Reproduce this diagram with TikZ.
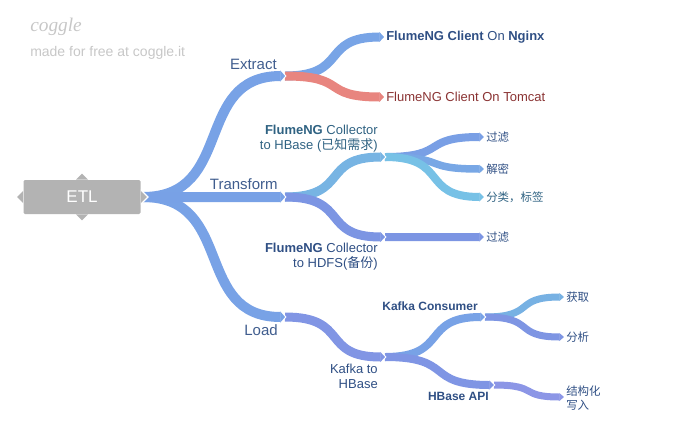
\documentclass[tikz,border=0pt]{standalone}
\usepackage{fontspec}
\setmainfont{Liberation Sans}
\newfontfamily\cjk{Noto Sans CJK SC}
\newfontfamily\logofont{Liberation Serif}
\usetikzlibrary{arrows.meta,calc,positioning}
\definecolor{etlgrey}{HTML}{B3B3B3}
\definecolor{rootblue}{HTML}{78A2E6}
\definecolor{skyblue}{HTML}{77B4E3}
\definecolor{cyanblue}{HTML}{77C1E6}
\definecolor{coralred}{HTML}{E8857F}
\definecolor{periblue}{HTML}{7C95E3}
\definecolor{violetblue}{HTML}{8C96E6}
\definecolor{inkblue}{HTML}{2F4F84}
\definecolor{tealink}{HTML}{2F6282}
\definecolor{redink}{HTML}{8A3333}
\tikzset{
  toplabel/.style={inner sep=0pt,text=inkblue!92!white,font=\fontsize{11.25}{13}\selectfont},
  midlabel/.style={inner sep=0pt,text=inkblue,align=right,font=\fontsize{9.75}{11.25}\selectfont},
  leaflabel/.style={inner sep=0pt,text=inkblue,align=left,font=\cjk\fontsize{8.6}{10.5}\selectfont},
  logolabel/.style={inner sep=0pt,text=black!22},
}
% one ribbon of the map, with a pale notch at its end
\newcommand{\branch}[4]{%
  \draw[white,line width=#4*0.75pt,-{Triangle[length=3.5pt,width=#4*0.75pt+0.6pt]}] ($(#2)+(-6,0)$) -- ($(#2)+(1.5,0)$);
  \draw[#3,line width=#4*0.75pt,-{Triangle[length=3.5pt,width=#4*0.75pt+0.6pt]}] (#1) .. controls ($(#1)!0.65!(#1-|#2)$) and ($(#2)!0.65!(#2-|#1)$) .. (#2);
}
\begin{document}
\begin{tikzpicture}[x=0.75pt,y=-0.75pt]
\useasboundingbox (0,0) rectangle (700,444);
\node[logolabel,anchor=west,font=\logofont\itshape\fontsize{14.5}{20}\selectfont] (logo) at (30,27) {coggle};
\node[logolabel,anchor=west,font=\fontsize{10.5}{12}\selectfont] (madefor) at (30,53) {made for free at coggle.it};
% junctions
\coordinate (root) at (143,197);
\coordinate (extract) at (285,76);
\coordinate (transform) at (285,197);
\coordinate (load) at (285,317);
\coordinate (nginx) at (384,37);
\coordinate (tomcat) at (384,97);
\coordinate (hbasein) at (385,157);
\coordinate (hdfsin) at (385,237);
\coordinate (filtera) at (484,137);
\coordinate (decrypt) at (484,169);
\coordinate (classify) at (484,197);
\coordinate (filterb) at (484,237);
\coordinate (kafka) at (385,357);
\coordinate (consumer) at (485,317);
\coordinate (hbaseapi) at (494,385);
\coordinate (fetch) at (564,297);
\coordinate (analyse) at (564,337);
\coordinate (write) at (564,397);
% ribbons
\branch{consumer}{fetch}{skyblue!85!rootblue}{7}
\branch{consumer}{analyse}{periblue!85!violetblue}{7}
\branch{hbaseapi}{write}{violetblue}{7}
\branch{kafka}{consumer}{rootblue}{8}
\branch{kafka}{hbaseapi}{periblue!80!violetblue}{8}
\branch{load}{kafka}{periblue!70!violetblue}{9}
\branch{hbasein}{filtera}{rootblue!80!periblue}{8}
\branch{hbasein}{decrypt}{rootblue!70!skyblue}{7.5}
\branch{hbasein}{classify}{cyanblue}{8}
\branch{hdfsin}{filterb}{periblue}{8}
\branch{transform}{hbasein}{skyblue}{9}
\branch{transform}{hdfsin}{periblue}{9}
\branch{extract}{nginx}{rootblue!90!skyblue}{9}
\branch{extract}{tomcat}{coralred}{9}
\branch{root}{extract}{rootblue}{10}
\branch{root}{load}{rootblue}{10}
\branch{root}{transform}{rootblue!90!periblue}{10}
% root node
\node[fill=etlgrey,rounded corners=1pt,text=white,minimum width=87.75pt,minimum height=25.5pt,inner sep=0pt,font=\fontsize{12.75}{15}\selectfont] (etl) at (82,197) {ETL};
\fill[etlgrey] ($(etl.north)+(-6,0)$) -- ($(etl.north)+(0,-6)$) -- ($(etl.north)+(6,0)$) -- cycle;
\fill[etlgrey] ($(etl.south)+(-6,0)$) -- ($(etl.south)+(0,6)$) -- ($(etl.south)+(6,0)$) -- cycle;
\fill[etlgrey] ($(etl.west)+(0,-6)$) -- ($(etl.west)+(-6,0)$) -- ($(etl.west)+(0,6)$) -- cycle;
\fill[white] ($(etl.east)+(0,-8)$) -- ($(etl.east)+(8,0)$) -- ($(etl.east)+(0,8)$) -- cycle;
\fill[etlgrey] ($(etl.east)+(0,-6)$) -- ($(etl.east)+(6,0)$) -- ($(etl.east)+(0,6)$) -- cycle;
% labels
\node[toplabel,anchor=base east] (extractlabel) at (277,69) {Extract};
\node[toplabel,anchor=base east] (transformlabel) at (278,189) {Transform};
\node[toplabel,anchor=base east] (loadlabel) at (278,335) {Load};
\node[midlabel,right=1.5pt of nginx,anchor=west] (nginxlabel) {\textbf{FlumeNG Client} On \textbf{Nginx}};
\node[midlabel,right=1.5pt of tomcat,anchor=west,text=redink] (tomcatlabel) {FlumeNG Client On Tomcat};
\node[midlabel,anchor=east,text=tealink] (hbaselabel) at (378,138.5) {\textbf{FlumeNG} Collector\\to HBase ({\cjk 已知需求})};
\node[midlabel,anchor=east] (hdfslabel) at (378,257) {\textbf{FlumeNG} Collector\\to HDFS({\cjk 备份})};
\node[midlabel,anchor=east] (kafkalabel) at (378,376) {Kafka to\\HBase};
\node[midlabel,anchor=east,font=\bfseries\fontsize{9}{11}\selectfont] (consumerlabel) at (478,306) {Kafka Consumer};
\node[midlabel,anchor=east,font=\bfseries\fontsize{9}{11}\selectfont] (apilabel) at (489,396) {HBase API};
\node[leaflabel,right=1.5pt of filtera] (filteralabel) {过滤};
\node[leaflabel,right=1.5pt of decrypt] (decryptlabel) {解密};
\node[leaflabel,right=1.5pt of classify,text=tealink] (classifylabel) {分类，标签};
\node[leaflabel,right=1.5pt of filterb] (filterblabel) {过滤};
\node[leaflabel,right=1.5pt of fetch] (fetchlabel) {获取};
\node[leaflabel,right=1.5pt of analyse] (analyselabel) {分析};
\node[leaflabel,right=1.5pt of write,yshift=-0.5pt] (writelabel) {结构化\\写入};
\end{tikzpicture}
\end{document}
